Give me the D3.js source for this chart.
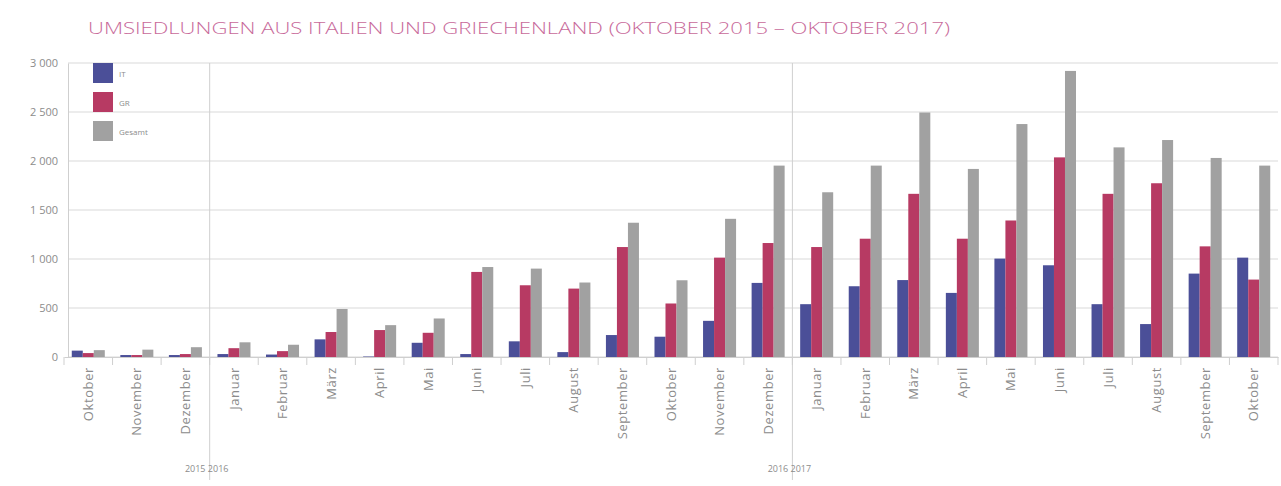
<!DOCTYPE html>
<html>
<head>
<meta charset="utf-8">
<script src="https://cdn.jsdelivr.net/npm/d3@7"></script>
<style>
  html, body { margin: 0; padding: 0; background: #ffffff; }
  svg { display: block; font-family: "Open Sans", "Noto Sans", sans-serif; }
</style>
</head>
<body>
<svg id="chart" width="1281" height="486"></svg>
<script>
// ---- data ----
const months = ["Oktober","November","Dezember","Januar","Februar","März","April","Mai","Juni","Juli","August","September",
                "Oktober","November","Dezember","Januar","Februar","März","April","Mai","Juni","Juli","August","September","Oktober"];
const seriesNames = ["IT", "GR", "Gesamt"];
const itValues     = [65, 20, 20, 30, 25, 180, 5, 145, 30, 160, 50, 224, 207, 369, 756, 539, 722, 785, 654, 1004, 936, 539, 336, 851, 1014];
const grValues     = [40, 20, 30, 90, 60, 255, 275, 247, 868, 732, 698, 1122, 546, 1014, 1163, 1122, 1207, 1665, 1207, 1393, 2037, 1665, 1773, 1129, 790];
const gesamtValues = [70, 75, 100, 150, 125, 490, 325, 393, 918, 902, 760, 1370, 783, 1410, 1953, 1681, 1953, 2495, 1919, 2377, 2919, 2139, 2214, 2031, 1953];
const yTicks = [0, 500, 1000, 1500, 2000, 2500, 3000];
const yearLabels = ["2015 2016", "2016 2017"];
const yearBreaks = [3, 15];   // category index where a new year group begins
const titleText = "UMSIEDLUNGEN AUS ITALIEN UND GRIECHENLAND (OKTOBER 2015 – OKTOBER 2017)";
const colors = ["#4b4f98", "#b73a63", "#a1a1a1"];

(function () {
// ---- layout ----
const svg = d3.select("#chart");
const pLeft = 64, pRight = 1278, pTop = 63, pBottom = 357;

const x = d3.scaleBand().domain(d3.range(months.length)).range([pLeft, pRight]).padding(0);
const bw = x.bandwidth();
const xs = d3.scaleBand().domain(seriesNames).range([bw * 0.16, bw * 0.84]).padding(0);
const y = d3.scaleLinear().domain([0, 3000]).range([pBottom, pTop]);

const fmt = v => d3.format(",")(v).replace(/,/g, " ");

// title
svg.append("text")
  .attr("x", 88).attr("y", 34)
  .attr("fill", "#c8699a")
  .attr("font-size", 16)
  .attr("font-weight", 300)
  .attr("textLength", 862)
  .attr("lengthAdjust", "spacingAndGlyphs")
  .text(titleText);

// horizontal gridlines
svg.append("g").selectAll("line").data(yTicks).join("line")
  .attr("x1", pLeft + 4).attr("x2", pRight)
  .attr("y1", d => y(d)).attr("y2", d => y(d))
  .attr("stroke", "#d9d9d9").attr("stroke-width", 1);

// y axis
const yAxis = svg.append("g").attr("transform", `translate(${pLeft + 4},0)`)
  .call(d3.axisLeft(y).tickValues(yTicks).tickFormat(fmt).tickSize(0).tickPadding(10));
yAxis.select(".domain").attr("stroke", "#cfcfcf");
yAxis.selectAll("text").attr("fill", "#8c8c8c").attr("font-size", 11).attr("font-family", "Open Sans, sans-serif");

// year separators
svg.append("g").selectAll("line").data(yearBreaks).join("line")
  .attr("x1", d => x(d)).attr("x2", d => x(d))
  .attr("y1", pTop).attr("y2", 480)
  .attr("stroke", "#cfcfcf").attr("stroke-width", 1);

// bars
const seriesData = [itValues, grValues, gesamtValues];
const groups = svg.append("g").selectAll("g").data(months.map((m, i) => i)).join("g")
  .attr("transform", i => `translate(${x(i)},0)`);
groups.selectAll("rect")
  .data(i => seriesNames.map((s, k) => ({ s, k, v: seriesData[k][i] })))
  .join("rect")
  .attr("x", d => xs(d.s))
  .attr("width", xs.bandwidth())
  .attr("y", d => y(d.v))
  .attr("height", d => y(0) - y(d.v))
  .attr("fill", d => colors[d.k]);

// x axis
const xAxis = svg.append("g").attr("transform", `translate(0,${pBottom})`)
  .call(d3.axisBottom(x).tickFormat(i => months[i]).tickSize(0).tickPadding(12));
xAxis.select(".domain").attr("stroke", "#cfcfcf");
xAxis.selectAll("text")
  .attr("fill", "#8c8c8c").attr("font-size", 13).attr("letter-spacing", "0.6px")
  .attr("font-family", "Open Sans, sans-serif")
  .attr("transform", "rotate(-90)")
  .attr("text-anchor", "end")
  .attr("dy", "0.35em")
  .attr("x", -10).attr("y", 0);

// tick marks at band boundaries
svg.append("g").selectAll("line").data(d3.range(months.length + 1)).join("line")
  .attr("x1", i => i < months.length ? x(i) : pRight)
  .attr("x2", i => i < months.length ? x(i) : pRight)
  .attr("y1", pBottom).attr("y2", pBottom + 8)
  .attr("stroke", "#cfcfcf");

// year labels
svg.append("g").selectAll("text").data(yearLabels).join("text")
  .attr("x", (d, i) => x(yearBreaks[i]) - 3)
  .attr("y", 472)
  .attr("text-anchor", "middle")
  .attr("fill", "#8c8c8c").attr("font-size", 9)
  .text(d => d);

// legend
const lg = svg.append("g").attr("transform", "translate(93,63)");
const li = lg.selectAll("g").data(seriesNames).join("g")
  .attr("transform", (d, i) => `translate(0,${i * 29})`);
li.append("rect").attr("width", 20).attr("height", 20).attr("fill", (d, i) => colors[i]);
li.append("text").attr("x", 26).attr("y", 11).attr("dy", "0.35em")
  .attr("fill", "#8c8c8c").attr("font-size", 8).text(d => d);
})();
</script>
</body>
</html>
